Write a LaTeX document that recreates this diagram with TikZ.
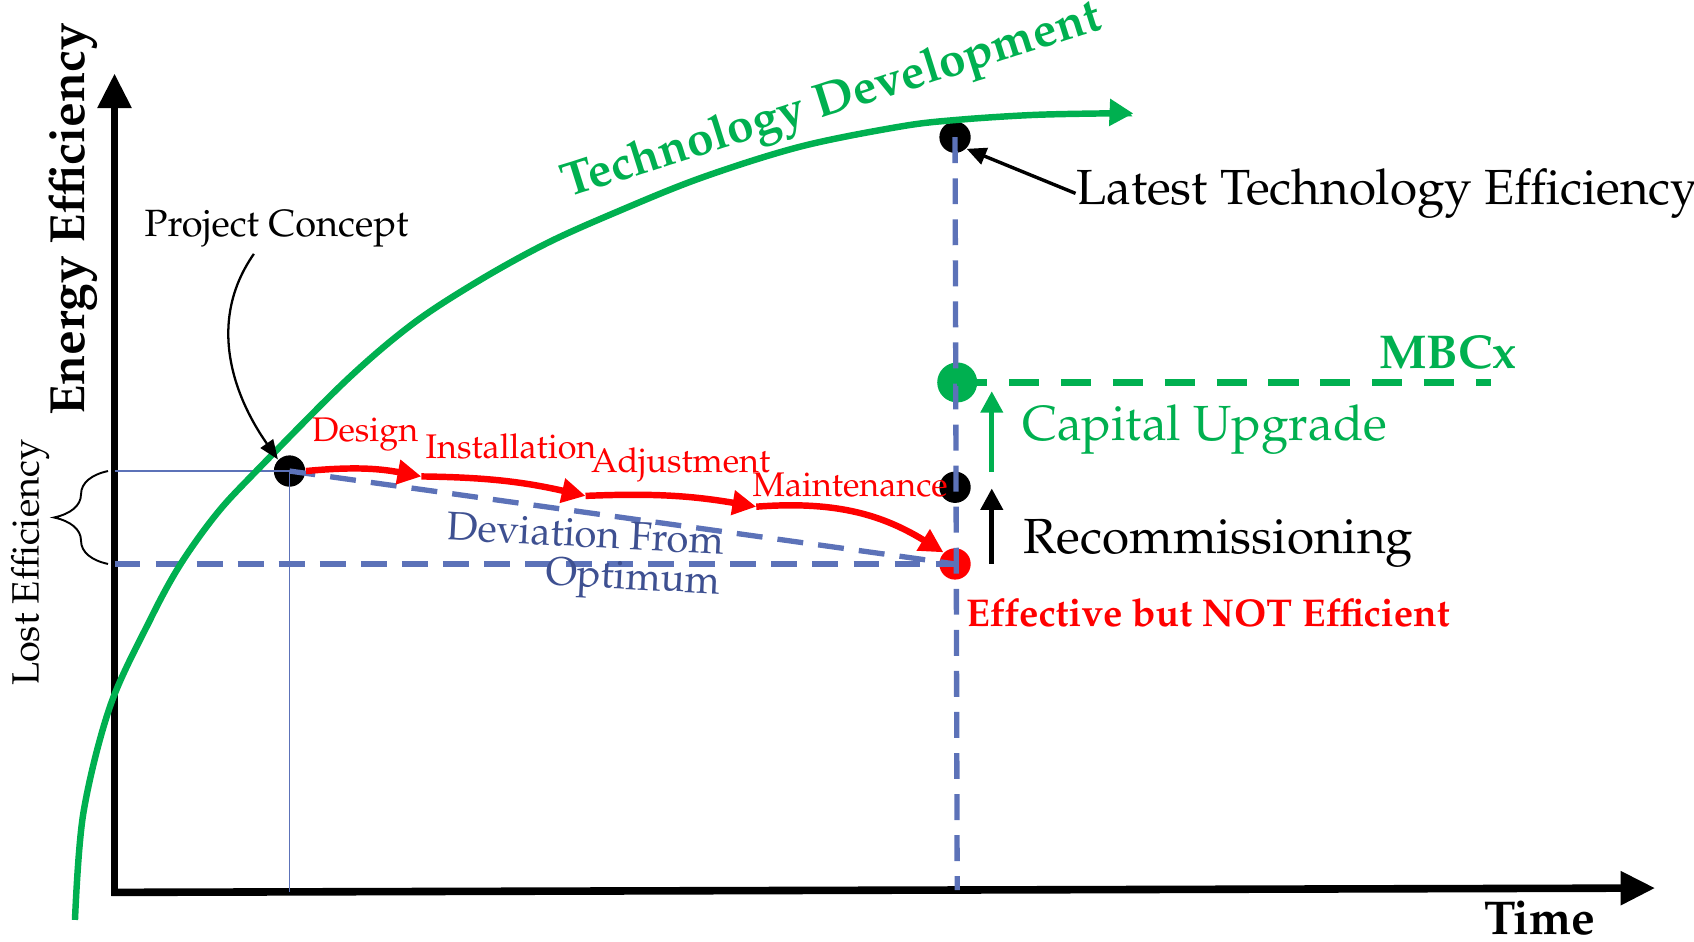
\documentclass[tikz,border=0pt]{standalone}
\usepackage[T1]{fontenc}
\usepackage{mathpazo}
\usetikzlibrary{arrows.meta,decorations.pathreplacing}

\definecolor{techgreen}{RGB}{0,176,80}
\definecolor{dashblue}{RGB}{92,114,184}
\definecolor{devblue}{RGB}{62,80,145}

\tikzset{
  axisline/.style={line width=2pt,-{Triangle[length=0.32cm,width=0.3cm]}},
  dotnode/.style={circle,fill=black,inner sep=0pt,minimum size=0.29cm},
  blueline/.style={dashblue,line width=1.4pt,dash pattern=on 0.24cm off 0.14cm},
  thinblue/.style={dashblue,line width=0.4pt},
  redstep/.style={red,line width=1.7pt,-{Triangle[length=0.22cm,width=0.22cm]}},
  redlabel/.style={red,font=\fontsize{9}{11}\selectfont,inner sep=0pt},
  biglabel/.style={font=\fontsize{13}{15}\selectfont,inner sep=0pt},
  uparrow/.style={line width=1.4pt,-{Triangle[length=0.2cm,width=0.2cm]}}
}

\begin{document}
\begin{tikzpicture}
  \useasboundingbox (0,0) rectangle (15.68,8.71);

  % Axes
  \coordinate (origin) at (1.06,0.45);
  \coordinate (ytop) at (1.06,8.03);
  \coordinate (xend) at (15.32,0.49);
  \draw[axisline] (1.06,0.42) -- (ytop);
  \draw[axisline] (1.03,0.45) -- (xend);
  \node[font=\bfseries\fontsize{12.5}{14}\selectfont,inner sep=0pt] (timelabel) at (14.25,0.21) {Time};
  \node[font=\bfseries\fontsize{13}{15}\selectfont,inner sep=0pt,rotate=90] (yaxislabel) at (0.68,6.68) {Energy Efficiency};

  % Points
  \node[dotnode] (concept) at (2.68,4.35) {};
  \node[dotnode] (latest) at (8.84,7.44) {};
  \node[dotnode] (recomm) at (8.84,4.20) {};
  \node[dotnode,fill=red] (current) at (8.84,3.49) {};
  \node[dotnode,fill=techgreen,minimum size=0.37cm] (mbcx) at (8.86,5.17) {};
  \coordinate (leftlow) at (1.06,3.49);
  \coordinate (lefthigh) at (1.06,4.35);
  \coordinate (conceptfoot) at (2.68,0.45);
  \coordinate (timefoot) at (8.86,0.47);
  \coordinate (mbcxend) at (13.80,5.17);

  % Reference lines
  \draw[thinblue] (lefthigh) -- (concept.center) -- (conceptfoot);
  \draw[blueline] (latest.center) -- (timefoot);
  \draw[blueline] (leftlow) -- (current.center);
  \draw[blueline] (concept.center) -- (current.center);

  % Lost efficiency
  \draw[decorate,decoration={brace,amplitude=0.5cm,aspect=0.5,mirror},line width=0.5pt] (1.0,4.35) -- (1.0,3.49);
  \node[font=\fontsize{10}{12}\selectfont,rotate=90,inner sep=0pt] (lostlabel) at (0.28,3.50) {Lost Efficiency};

  % Technology curve
  \draw[techgreen,line width=1.7pt,-{Triangle[length=0.22cm,width=0.24cm]}]
    plot[smooth,tension=0.55] coordinates {(0.694,0.195) (0.771,1.18) (1.018,2.17) (1.388,2.97) (1.666,3.48) (2.006,3.955) (2.376,4.354) (3.209,5.193) (3.826,5.717) (4.443,6.118) (5.06,6.458) (5.677,6.735) (6.479,7.06) (7.405,7.352) (8.33,7.538) (8.855,7.60) (9.564,7.646) (10.274,7.661) (10.49,7.66)};
  \node[techgreen,font=\bfseries\fontsize{12.6}{15}\selectfont,rotate=17.5,inner sep=0pt] (techlabel) at (7.70,7.76) {Technology Development};

  % Project concept
  \node[font=\fontsize{10}{12}\selectfont,inner sep=0pt] (conceptlabel) at (2.56,6.59) {Project Concept};
  \draw[line width=0.6pt,-{Triangle[length=0.18cm,width=0.14cm]}] (2.35,6.36) to[out=235,in=125] (concept.north west);

  % Latest technology
  \node[biglabel] (latestlabel) at (12.84,6.92) {Latest Technology Efficiency};
  \draw[line width=0.9pt,-{Triangle[length=0.18cm,width=0.16cm]}] (latestlabel.west) -- (latest.south east);

  % Project stages
  \coordinate (s1) at (3.90,4.30);
  \coordinate (s2) at (5.42,4.12);
  \coordinate (s3) at (7.00,4.02);
  \draw[redstep] (concept.east) to[bend left=8] (s1);
  \draw[redstep] (s1) to[bend left=6] (s2);
  \draw[redstep] (s2) to[bend left=6] (s3);
  \draw[redstep] (s3) to[bend left=18] (current.north west);
  \node[redlabel] (design) at (3.38,4.69) {Design};
  \node[redlabel] (install) at (4.73,4.58) {Installation};
  \node[redlabel] (adjust) at (6.30,4.41) {Adjustment};
  \node[redlabel] (maint) at (7.87,4.22) {Maintenance};
  \node[devblue,font=\fontsize{10.5}{13}\selectfont,rotate=-3,inner sep=0pt] (devlabel) at (5.42,3.77) {Deviation From};
  \node[devblue,font=\fontsize{10.5}{13}\selectfont,rotate=-3,inner sep=0pt] (optlabel) at (5.86,3.33) {Optimum};

  % Improvements
  \draw[uparrow] (9.18,3.49) -- (9.18,4.19);
  \draw[uparrow,techgreen] (9.18,4.34) -- (9.18,5.09);
  \draw[techgreen,line width=1.7pt,dash pattern=on 0.28cm off 0.2cm] (mbcx.center) -- (mbcxend);
  \node[techgreen,font=\bfseries\fontsize{12.5}{14}\selectfont,inner sep=0pt] (mbcxlabel) at (13.40,5.45) {MBCx};
  \node[biglabel,techgreen] (upgrade) at (11.15,4.73) {Capital Upgrade};
  \node[biglabel] (recommlabel) at (11.28,3.68) {Recommissioning};
  \node[red,font=\bfseries\fontsize{10.2}{12}\selectfont,inner sep=0pt] (effective) at (11.18,3.04) {Effective but NOT Efficient};
\end{tikzpicture}
\end{document}
